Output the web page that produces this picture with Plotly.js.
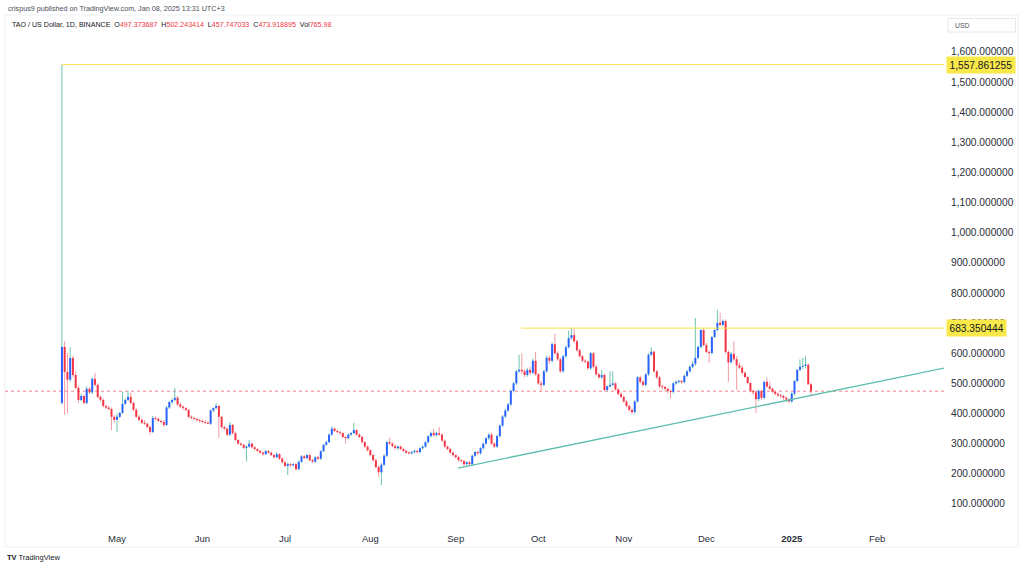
<!DOCTYPE html>
<html>
<head>
<meta charset="utf-8">
<script src="https://cdn.plot.ly/plotly-3.0.1.min.js"></script>
<style>
  html, body { margin: 0; padding: 0; background: #ffffff; }
  #chart { width: 1024px; height: 568px; }
</style>
</head>
<body>
<div id="chart"></div>
<script>
// ---- Data: TAO / US Dollar, 1D, BINANCE (daily candles from 2024-04-11 to 2025-01-08) ----
const startDate = '2024-04-11';

const opens = [
  435,621,538,512,584,528,485,445,458,435,482,470,515,495,455,445,425,420,415,389,
  379,389,402,432,445,455,435,412,389,379,369,366,355,339,385,382,375,372,362,420,438,445,452,430,422,418,412,389,385,382,378,
  375,372,370,366,410,418,425,389,355,350,330,362,335,312,300,296,286,290,300,288,282,276,270,265,275,270,262,255,265,250,
  238,226,232,228,232,215,240,258,252,262,245,240,255,250,275,296,305,330,350,342,338,335,322,318,330,335,345,330,322,305,290,
  278,262,245,222,205,230,260,305,300,292,285,290,282,276,270,268,272,276,272,285,290,305,325,335,328,335,330,310,290,282,270,
  262,255,245,242,232,238,232,260,272,268,285,300,318,330,300,290,325,360,390,410,430,475,500,540,545,540,528,545,535,575,
  530,500,495,540,585,575,630,600,580,540,590,620,650,660,640,610,590,575,572,550,600,555,530,520,528,478,490,495,500,480,465,
  455,440,425,412,405,440,520,505,495,530,595,605,540,520,490,488,482,475,472,500,505,508,504,525,540,555,565,585,621,677,
  627,604,601,654,677,701,694,707,604,570,598,580,560,552,535,521,501,475,470,448,475,452,505,490,482,472,465,460,458,452,446,
  440,466,508,545,555,558,562,497.373687
];
const highs = [
  1557.861255,640,600,621,592,540,492,465,462,490,488,520,535,500,460,450,430,425,420,395,
  400,405,472,450,475,470,440,418,395,385,378,370,360,392,392,388,380,378,425,442,450,485,458,436,428,422,416,394,390,386,382,
  380,378,374,414,420,435,430,392,360,354,372,366,340,316,305,300,295,312,304,292,286,280,274,280,279,274,266,272,268,255,
  242,238,236,236,235,244,262,262,266,265,250,258,259,278,299,310,334,358,354,346,342,338,326,334,338,369,348,334,326,308,294,
  282,266,250,228,235,265,310,319,305,298,294,294,286,280,274,276,280,280,288,294,308,328,340,350,340,355,334,314,294,286,274,
  266,260,250,246,242,242,264,276,276,288,304,322,334,336,305,330,364,395,415,435,480,505,545,595,600,548,552,555,582,605,
  535,508,545,592,592,636,665,606,585,596,625,675,683.350444,680,645,615,594,580,576,605,604,560,535,545,532,494,540,540,504,484,470,
  460,445,430,416,444,525,526,510,534,600,620,608,545,525,495,492,486,480,505,510,512,512,530,545,560,575,717,625,680,684,
  635,610,656,680,744,734,712,712,610,604,640,590,570,560,540,525,505,480,476,480,478,508,520,505,486,476,470,466,462,456,452,
  470,512,548,580,584,590,566,502.243414
];
const lows = [
  430,395,400,505,520,480,435,440,430,430,465,465,490,450,440,420,415,410,345,370,
  339,385,398,428,440,430,408,385,375,365,362,350,330,335,378,372,368,355,358,415,432,440,425,418,412,408,385,380,378,374,370,
  368,366,364,362,405,414,319,350,345,325,326,330,308,296,292,282,240,286,284,278,272,266,260,262,266,258,250,252,246,234,
  222,196,224,224,210,212,236,248,248,242,236,236,246,246,272,292,302,326,338,334,330,318,300,314,326,332,326,318,300,286,274,
  258,240,218,190,163,226,255,296,288,280,280,278,272,266,264,264,268,268,268,280,286,300,320,324,324,326,306,286,278,266,258,
  250,240,238,222,226,225,228,256,262,264,280,296,312,296,286,286,320,355,385,405,425,470,495,535,530,520,522,528,530,525,
  495,475,490,535,565,570,595,575,535,535,585,615,645,635,605,585,570,566,545,545,550,526,515,515,474,474,486,490,476,460,452,
  436,420,404,396,400,436,500,490,490,525,590,535,515,484,480,476,468,450,466,495,500,500,500,520,535,550,558,580,615,622,
  600,568,596,650,672,690,690,598,505,565,575,478,548,530,518,498,470,462,402,440,445,448,484,478,468,460,455,452,446,438,436,
  436,460,504,540,548,550,495,457.747033
];
const closes = [
  621,538,512,584,528,485,445,458,435,482,470,515,495,455,445,425,420,415,389,379,
  389,402,432,445,455,435,412,389,379,369,366,355,339,385,382,375,372,362,420,438,445,452,430,422,418,412,389,385,382,378,375,
  372,370,366,410,418,425,389,355,350,330,362,335,312,300,296,286,290,300,288,282,276,270,265,275,270,262,255,265,250,238,
  226,232,228,232,215,240,258,252,262,245,240,255,250,275,296,305,330,350,342,338,335,322,318,330,335,345,330,322,305,290,278,
  262,245,222,205,230,260,305,300,292,285,290,282,276,270,268,272,276,272,285,290,305,325,335,328,335,330,310,290,282,270,262,
  255,245,242,232,238,232,260,272,268,285,300,318,330,300,290,325,360,390,410,430,475,500,540,545,540,528,545,535,575,530,
  500,495,540,585,575,630,600,580,540,590,620,650,660,640,610,590,575,572,550,600,555,530,520,528,478,490,495,500,480,465,455,
  440,425,412,405,440,520,505,495,530,595,605,540,520,490,488,482,475,472,500,505,508,504,525,540,555,565,585,621,677,627,
  604,601,654,677,701,694,707,604,570,598,580,560,552,535,521,501,475,470,448,475,452,505,490,482,472,465,460,458,452,446,440,
  466,508,545,555,558,562,497,473.918895
];

// Axis ticks
const monthTickVals = ['2024-05-01','2024-06-01','2024-07-01','2024-08-01','2024-09-01','2024-10-01','2024-11-01','2024-12-01','2025-01-01','2025-02-01'];
const monthTickText = ['May','Jun','Jul','Aug','Sep','Oct','Nov','Dec','<b>2025</b>','Feb'];
const priceTickVals = [100,200,300,400,500,600,700,800,900,1000,1100,1200,1300,1400,1500,1600];
const xRange = ['2024-03-21 08:00', '2025-02-25 07:00'];
const yRange = [30, 1739];

// Drawings
const highLevel = 1557.861255, highLevelStart = '2024-04-11';
const resistLevel = 683.350444, resistStart = '2024-09-24 17:00';
const lastClose = 473.918895;
const trendDates = ['2024-09-01 20:00', '2025-02-26'];
const trendValues = [219, 552];

// Header
const headerLine1 = 'crispus9 published on TradingView.com, Jan 08, 2025 13:31 UTC+3';
const symbolTitle = 'TAO / US Dollar, 1D, BINANCE';
const ohlcLabels = ['O','H','L','C','Vol'];
const ohlcValues = ['497.373687','502.243414','457.747033','473.918895','765.98'];

// ---- Build traces ----
const dates = [];
const t0 = Date.parse(startDate + 'T00:00:00Z');
for (let i = 0; i < closes.length; i++) {
  dates.push(new Date(t0 + i * 86400000).toISOString().slice(0, 10));
}

const UP_BODY = '#2962ff', DOWN_BODY = '#f23645';
const UP_WICK = '#6cc4b4', DOWN_WICK = '#f59aa4';

const wUx = [], wUy = [], wDx = [], wDy = [];
const bUx = [], bUy = [], bDx = [], bDy = [];
const minBody = 3.3;
for (let i = 0; i < closes.length; i++) {
  const o = opens[i], c = closes[i];
  const up = c >= o;
  let lo = Math.min(o, c), hi = Math.max(o, c);
  if (hi - lo < minBody) { const m = (hi + lo) / 2; lo = m - minBody / 2; hi = m + minBody / 2; }
  if (up) {
    wUx.push(dates[i], dates[i], null); wUy.push(lows[i], highs[i], null);
    bUx.push(dates[i], dates[i], null); bUy.push(lo, hi, null);
  } else {
    wDx.push(dates[i], dates[i], null); wDy.push(lows[i], highs[i], null);
    bDx.push(dates[i], dates[i], null); bDy.push(lo, hi, null);
  }
}

const common = { type: 'scatter', mode: 'lines', hoverinfo: 'skip', showlegend: false, connectgaps: false };
const traces = [
  Object.assign({}, common, { x: wUx, y: wUy, line: { color: UP_WICK, width: 1 } }),
  Object.assign({}, common, { x: wDx, y: wDy, line: { color: DOWN_WICK, width: 1 } }),
  Object.assign({}, common, { x: bUx, y: bUy, line: { color: UP_BODY, width: 2 } }),
  Object.assign({}, common, { x: bDx, y: bDy, line: { color: DOWN_BODY, width: 2 } })
];

// pixel helpers for header placement (plot area: x 5..944, y 10..525)
const L = 5, R = 80, T = 10, B = 43, W = 1024, H = 568;
const pw = W - L - R, ph = H - T - B;
const px = X => (X - L) / pw;
const py = Y => (H - B - Y) / ph;

let ohlcHtml = symbolTitle;
for (let k = 0; k < ohlcLabels.length; k++) {
  ohlcHtml += '&nbsp;&nbsp;' + ohlcLabels[k] + '<span style="color:#f23645">' + ohlcValues[k] + '</span>';
}

const FONT = 'Liberation Sans, Arial, sans-serif';
const layout = {
  width: W, height: H,
  margin: { l: L, r: R, t: T, b: B },
  paper_bgcolor: '#ffffff', plot_bgcolor: '#ffffff',
  showlegend: false,
  font: { family: FONT, color: '#2a2e39' },
  xaxis: {
    type: 'date', range: xRange, showgrid: false, zeroline: false, showline: false,
    tickvals: monthTickVals, ticktext: monthTickText, ticks: '',
    tickfont: { size: 9.5, color: '#2a2e39', family: FONT }, ticklabelstandoff: 6,
    fixedrange: true
  },
  yaxis: {
    side: 'right', range: yRange, showgrid: false, zeroline: false, showline: false,
    tickvals: priceTickVals, tickformat: ',.6f', ticks: '',
    tickfont: { size: 10.2, color: '#2a2e39', family: FONT }, ticklabelstandoff: 6,
    fixedrange: true
  },
  shapes: [
    { type: 'rect', xref: 'paper', yref: 'paper', x0: 0, x1: px(1018), y0: py(547), y1: py(15),
      line: { color: '#eceff3', width: 1 }, fillcolor: 'rgba(0,0,0,0)', layer: 'below' },
    { type: 'rect', xref: 'paper', yref: 'paper', x0: px(948), x1: px(1015.5), y0: py(32), y1: py(18.5),
      line: { color: '#e3e6ec', width: 1 }, fillcolor: '#ffffff' },
    { type: 'line', xref: 'x', yref: 'y', x0: highLevelStart, x1: '2025-03-15', y0: highLevel, y1: highLevel,
      line: { color: '#f2e24a', width: 1 } },
    { type: 'line', xref: 'x', yref: 'y', x0: resistStart, x1: '2025-03-15', y0: resistLevel, y1: resistLevel,
      line: { color: '#f2e24a', width: 1 } },
    { type: 'line', xref: 'paper', yref: 'y', x0: 0, x1: 1, y0: lastClose, y1: lastClose,
      line: { color: '#f5828c', width: 1, dash: 'dot' }, layer: 'below' },
    { type: 'line', xref: 'x', yref: 'y', x0: trendDates[0], x1: trendDates[1], y0: trendValues[0], y1: trendValues[1],
      line: { color: '#5dbfae', width: 1.3 } }
  ],
  annotations: [
    { xref: 'paper', yref: 'paper', x: px(6), y: py(8), xanchor: 'left', yanchor: 'middle', showarrow: false,
      text: headerLine1, font: { size: 7.2, color: '#4a4e59', family: FONT } },
    { xref: 'paper', yref: 'paper', x: px(10), y: py(25), xanchor: 'left', yanchor: 'middle', showarrow: false,
      text: ohlcHtml, font: { size: 7.1, color: '#131722', family: FONT } },
    { xref: 'paper', yref: 'paper', x: px(953), y: py(25.5), xanchor: 'left', yanchor: 'middle', showarrow: false,
      text: 'USD', font: { size: 6.8, color: '#50535e', family: FONT } },
    { xref: 'paper', yref: 'y', x: 1, y: highLevel, xanchor: 'left', yanchor: 'middle', xshift: 1.5, showarrow: false,
      text: '1,557.861255', bgcolor: '#f9e84a', borderpad: 2.5, font: { size: 10.2, color: '#131722', family: FONT } },
    { xref: 'paper', yref: 'y', x: 1, y: resistLevel, xanchor: 'left', yanchor: 'middle', xshift: 1.5, showarrow: false,
      text: '683.350444', bgcolor: '#f9e84a', borderpad: 2.5, font: { size: 10.2, color: '#131722', family: FONT } },
    { xref: 'paper', yref: 'paper', x: px(5), y: py(557), xanchor: 'left', yanchor: 'middle', showarrow: false,
      text: '<b>TV</b> TradingView', font: { size: 7.5, color: '#131722', family: FONT } }
  ]
};

Plotly.newPlot('chart', traces, layout, { displayModeBar: false, staticPlot: true });
</script>
</body>
</html>
